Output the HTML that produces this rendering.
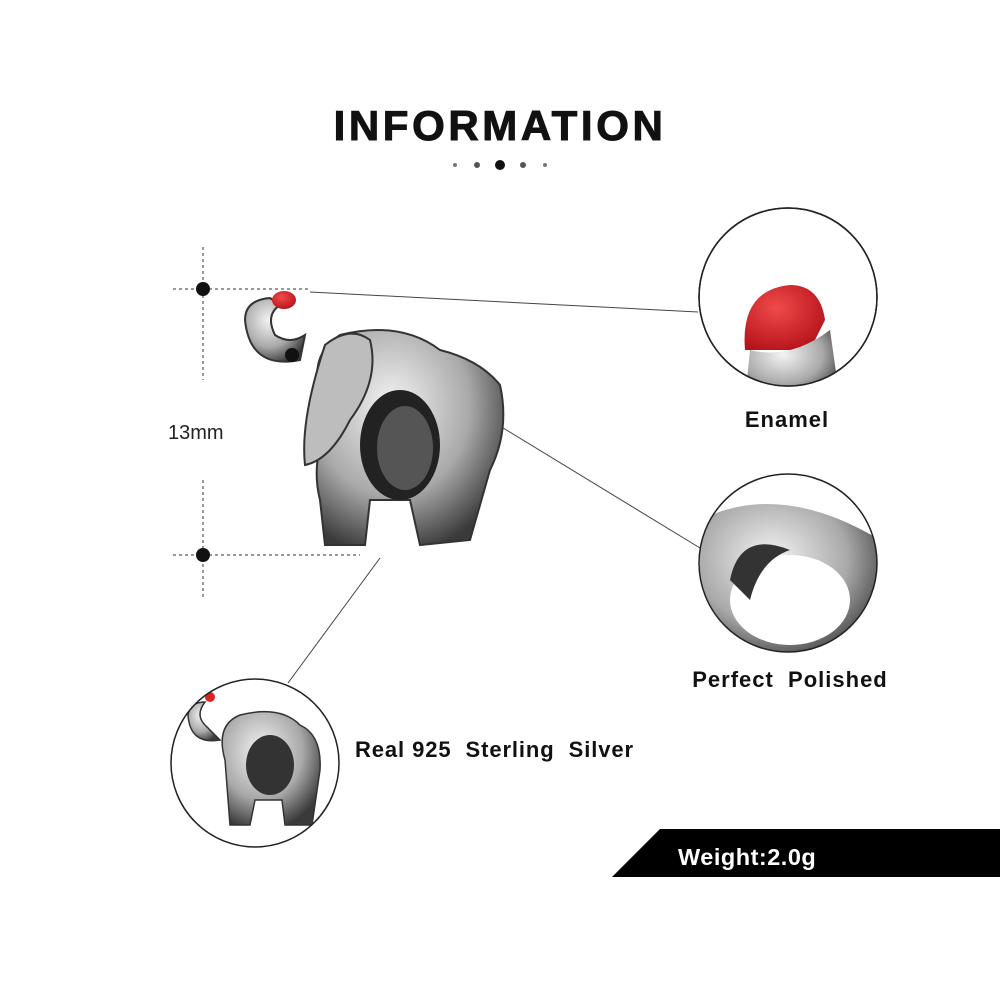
<!DOCTYPE html>
<html><head><meta charset="utf-8"><style>
html,body{margin:0;padding:0;background:#fff;width:1000px;height:1000px;overflow:hidden}
svg{display:block}
</style></head><body>
<svg width="1000" height="1000" viewBox="0 0 1000 1000" xmlns="http://www.w3.org/2000/svg">
<defs>
<radialGradient id="sil" cx="40%" cy="35%" r="70%"><stop offset="0" stop-color="#f4f4f4"/><stop offset="0.6" stop-color="#a9a9a9"/><stop offset="1" stop-color="#3a3a3a"/></radialGradient>
<radialGradient id="red" cx="40%" cy="35%" r="70%"><stop offset="0" stop-color="#f04a4a"/><stop offset="1" stop-color="#b5121b"/></radialGradient>
<clipPath id="c1"><circle cx="788" cy="297" r="89"/></clipPath>
<clipPath id="c2"><circle cx="788" cy="563" r="89"/></clipPath>
<clipPath id="c3"><circle cx="255" cy="763" r="84"/></clipPath>
</defs>
<text x="500" y="140" text-anchor="middle" font-family="Liberation Sans, sans-serif" font-weight="900" font-size="42" letter-spacing="3.6" fill="#111" stroke="#111" stroke-width="1">INFORMATION</text>
<circle cx="455" cy="165" r="2" fill="#777"/><circle cx="477" cy="165" r="3" fill="#555"/><circle cx="500" cy="165" r="5" fill="#111"/><circle cx="523" cy="165" r="3" fill="#555"/><circle cx="545" cy="165" r="2" fill="#777"/>
<g stroke="#333" stroke-width="1" stroke-dasharray="3,3" fill="none">
<line x1="203" y1="247" x2="203" y2="380"/><line x1="203" y1="480" x2="203" y2="597"/>
<line x1="173" y1="289" x2="310" y2="289"/><line x1="173" y1="555" x2="360" y2="555"/>
</g>
<circle cx="203" cy="289" r="7" fill="#111"/><circle cx="203" cy="555" r="7" fill="#111"/>
<text x="168" y="439" font-family="Liberation Sans, sans-serif" font-size="20" fill="#222">13mm</text>
<g stroke="#444" stroke-width="1"><line x1="310" y1="292" x2="698" y2="312"/><line x1="490" y1="420" x2="700" y2="548"/><line x1="380" y1="558" x2="288" y2="683"/></g>
<g>
<path d="M330 420 Q300 360 340 335 Q400 320 440 350 Q480 360 500 385 Q510 430 490 470 L470 540 L420 545 L410 500 L370 500 L365 545 L325 545 L320 500 Q310 460 330 420Z" fill="url(#sil)" stroke="#333" stroke-width="2"/>
<path d="M300 360 Q250 370 245 320 Q245 300 270 298 L280 305 Q265 315 275 335 Q290 345 305 335Z" fill="url(#sil)" stroke="#333" stroke-width="2"/>
<path d="M325 345 Q350 325 370 340 Q380 380 350 420 Q330 460 305 465 Q300 420 325 345Z" fill="#bdbdbd" stroke="#333" stroke-width="2"/>
<ellipse cx="400" cy="445" rx="40" ry="55" fill="#222"/><ellipse cx="405" cy="448" rx="28" ry="42" fill="#555"/>
<circle cx="292" cy="355" r="7" fill="#111"/>
<ellipse cx="284" cy="300" rx="12" ry="9" fill="url(#red)"/>
</g>
<circle cx="788" cy="297" r="89" fill="#fff" stroke="#222" stroke-width="1.5"/>
<g clip-path="url(#c1)"><path d="M745 350 Q740 290 790 285 Q820 285 825 320 L810 350Z" fill="url(#red)"/><path d="M750 350 Q790 360 830 330 L840 400 L745 400Z" fill="url(#sil)"/></g>
<circle cx="788" cy="297" r="89" fill="none" stroke="#222" stroke-width="1.5"/>
<text x="787" y="427" text-anchor="middle" font-family="Liberation Sans, sans-serif" font-weight="bold" font-size="22" letter-spacing="1" fill="#111">Enamel</text>
<circle cx="788" cy="563" r="89" fill="#fff"/>
<g clip-path="url(#c2)"><path d="M700 520 Q780 480 880 540 L880 660 L700 660Z" fill="url(#sil)"/><ellipse cx="790" cy="600" rx="60" ry="45" fill="#fff"/><path d="M730 580 Q740 530 790 550 Q760 560 750 600Z" fill="#333"/></g>
<circle cx="788" cy="563" r="89" fill="none" stroke="#222" stroke-width="1.5"/>
<text x="790" y="687" text-anchor="middle" font-family="Liberation Sans, sans-serif" font-weight="bold" font-size="22" letter-spacing="1" fill="#111" xml:space="preserve">Perfect  Polished</text>
<circle cx="255" cy="763" r="84" fill="#fff"/>
<g clip-path="url(#c3)">
<path d="M225 760 Q215 725 240 715 Q280 705 300 725 Q322 735 320 770 L312 825 L285 825 L282 800 L255 800 L250 825 L230 825Z" fill="url(#sil)" stroke="#333" stroke-width="1.5"/>
<path d="M220 740 Q190 745 188 715 Q190 702 205 702 Q195 715 205 725Z" fill="url(#sil)" stroke="#333" stroke-width="1.5"/>
<ellipse cx="270" cy="765" rx="24" ry="30" fill="#333"/>
<circle cx="210" cy="697" r="5" fill="#d22"/>
</g>
<circle cx="255" cy="763" r="84" fill="none" stroke="#222" stroke-width="1.5"/>
<text x="355" y="757" font-family="Liberation Sans, sans-serif" font-weight="bold" font-size="22" letter-spacing="0.9" fill="#111" xml:space="preserve">Real 925  Sterling  Silver</text>
<polygon points="660,829 1000,829 1000,877 612,877" fill="#000"/>
<text x="678" y="865" font-family="Liberation Sans, sans-serif" font-weight="bold" font-size="23.5" letter-spacing="0.5" fill="#fff">Weight:2.0g</text>
</svg>
</body></html>
